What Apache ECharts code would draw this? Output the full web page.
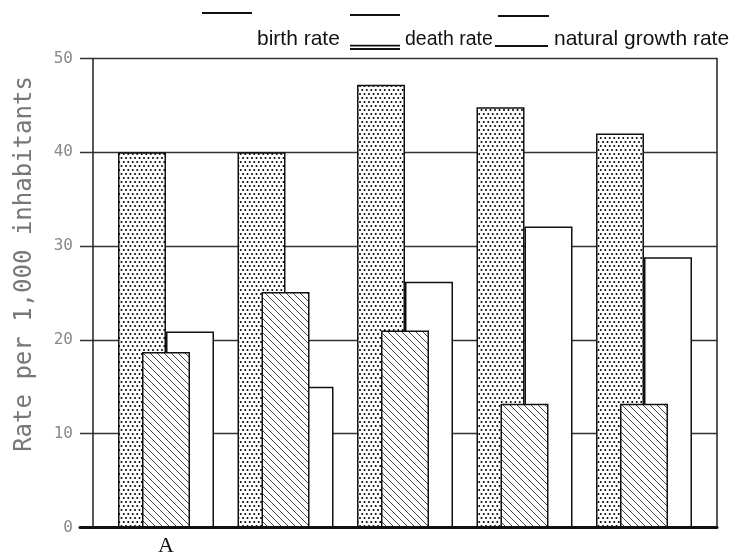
<!DOCTYPE html>
<html>
<head>
<meta charset="utf-8">
<style>html,body{margin:0;padding:0;background:#fff;}#chart{width:736px;height:558px;}</style>
<script src="https://cdn.jsdelivr.net/npm/echarts@6/dist/echarts.min.js"></script>
</head>
<body>
<div id="chart"></div>
<script>
// ---- data ----
const categories = ['A', '', '', '', ''];
const birthRate = [40, 40, 47.2, 44.8, 42];
const deathRate = [18.7, 25.1, 21, 13.2, 13.2];
const naturalGrowth = [20.9, 15, 26.2, 32.1, 28.8];
const seriesNames = ['birth rate', 'death rate', 'natural growth rate'];
const yTicks = [0, 10, 20, 30, 40, 50];
const yTitle = 'Rate per 1,000 inhabitants';

// ---- fill patterns ----
function dotPattern() {
  const c = document.createElement('canvas');
  c.width = 9; c.height = 8;
  const ctx = c.getContext('2d');
  ctx.fillStyle = '#fff'; ctx.fillRect(0, 0, 9, 8);
  ctx.fillStyle = '#000';
  [[2.25, 2], [6.75, 2], [0, 6], [4.5, 6], [9, 6]].forEach(p => {
    ctx.beginPath(); ctx.arc(p[0], p[1], 1.0, 0, Math.PI * 2); ctx.fill();
  });
  return c;
}
function hatchPattern() {
  const c = document.createElement('canvas');
  c.width = 7; c.height = 7;
  const ctx = c.getContext('2d');
  ctx.fillStyle = '#fff'; ctx.fillRect(0, 0, 7, 7);
  ctx.strokeStyle = '#333'; ctx.lineWidth = 0.9;
  [-7, 0, 7].forEach(k => {
    ctx.beginPath(); ctx.moveTo(k - 1, -1); ctx.lineTo(k + 8, 8); ctx.stroke();
  });
  return c;
}

const chart = echarts.init(document.getElementById('chart'), null, {renderer: 'canvas'});

const legendText = {color: '#111', fontFamily: 'Liberation Sans', fontSize: 21};
const legendText2 = {color: '#111', fontFamily: 'Liberation Sans', fontSize: 19.5};
const legendItemStyle = {color: '#111', borderWidth: 0, borderColor: 'transparent', decal: 'none'};

const option = {
  animation: false,
  backgroundColor: '#fff',
  legend: [
    {left: 202, top: 12, padding: 0, itemWidth: 50, itemHeight: 55, selectedMode: false,
     symbolKeepAspect: false, textStyle: legendText, itemStyle: legendItemStyle,
     data: [{name: seriesNames[0], icon: 'path://M0 0H50V2H0Z M0 54.99H0.01V55H0Z'}]},
    {left: 350, top: 14, padding: 0, itemWidth: 50, itemHeight: 51, selectedMode: false,
     symbolKeepAspect: false, textStyle: legendText2, itemStyle: legendItemStyle,
     data: [{name: seriesNames[1], icon: 'path://M0 0H50V2H0Z M0 30.8H50V32.6H0Z M0 34.1H50V35.9H0Z M0 50.99H0.01V51H0Z'}]},
    {left: 495, top: 15, padding: 0, itemWidth: 54, itemHeight: 49, selectedMode: false,
     symbolKeepAspect: false, textStyle: legendText, itemStyle: legendItemStyle,
     data: [{name: seriesNames[2], icon: 'path://M3 0H54V2H3Z M0 30H53V32H0Z M0 48.99H0.01V49H0Z'}]}
  ],
  grid: [
    {left: 80, right: 19, top: 58.5, bottom: 30.5},
    {left: 106.25, right: 32.25, top: 58.5, bottom: 30.5}
  ],
  xAxis: [
    {gridIndex: 0, type: 'value', min: 0, max: 1,
     axisLine: {show: true, onZero: false, lineStyle: {color: '#111', width: 3}},
     axisTick: {show: false}, axisLabel: {show: false}, splitLine: {show: false}},
    {gridIndex: 1, type: 'category', data: categories,
     axisLine: {show: false}, axisTick: {show: false},
     axisLabel: {color: '#111', fontFamily: 'Liberation Serif', fontSize: 22, margin: 8}}
  ],
  yAxis: [
    {gridIndex: 0, type: 'value', min: yTicks[0], max: yTicks[yTicks.length - 1], interval: 10, offset: -13,
     axisLine: {show: true, lineStyle: {color: '#222', width: 1.5}},
     axisTick: {show: false},
     axisLabel: {color: '#888', fontFamily: 'DejaVu Sans Mono', fontSize: 16, margin: 20},
     splitLine: {show: true, lineStyle: {color: '#333', width: 1.3}}},
    {gridIndex: 0, type: 'value', position: 'right', min: 0, max: 50,
     axisLine: {show: true, lineStyle: {color: '#222', width: 1.5}},
     axisTick: {show: false}, axisLabel: {show: false}, splitLine: {show: false}},
    {gridIndex: 1, type: 'value', min: 0, max: 50, show: false}
  ],
  graphic: [
    {type: 'text', x: 25, y: 264, rotation: Math.PI / 2,
     style: {text: yTitle, fill: '#777', font: '24px "DejaVu Sans Mono"',
             textAlign: 'center', textVerticalAlign: 'middle'}}
  ],
  series: [
    {name: seriesNames[0], type: 'bar', xAxisIndex: 1, yAxisIndex: 2, data: birthRate,
     barWidth: 48, barGap: '-50%', z: 2,
     itemStyle: {color: {image: dotPattern(), repeat: 'repeat'}, borderColor: '#111', borderWidth: 1.5}},
    {name: seriesNames[1], type: 'bar', xAxisIndex: 1, yAxisIndex: 2, data: deathRate,
     barWidth: 48, barGap: '-50%', z: 4,
     itemStyle: {color: {image: hatchPattern(), repeat: 'repeat'}, borderColor: '#111', borderWidth: 1.5}},
    {name: seriesNames[2], type: 'bar', xAxisIndex: 1, yAxisIndex: 2, data: naturalGrowth,
     barWidth: 48, barGap: '-50%', z: 3,
     itemStyle: {color: '#fff', borderColor: '#111', borderWidth: 1.5}}
  ]
};
chart.setOption(option);
</script>
</body>
</html>
